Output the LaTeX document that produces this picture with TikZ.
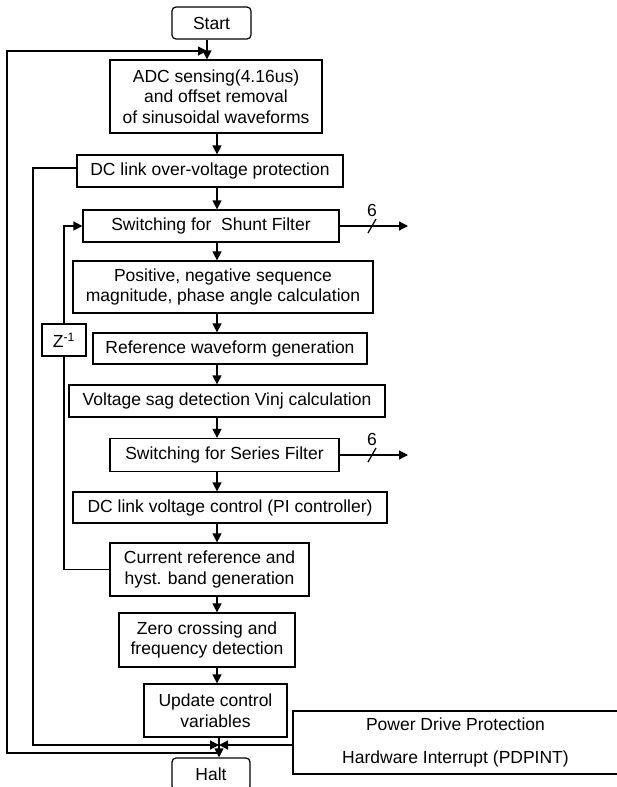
\documentclass[tikz,border=0pt]{standalone}
\usepackage{fontspec}
\setmainfont{Liberation Sans}
\usetikzlibrary{arrows.meta}
\begin{document}
\begin{tikzpicture}[x=1pt,y=-1pt,
  box/.style={draw, line width=1.2pt, inner sep=0pt, align=center, font=\fontsize{17.5}{20.5}\selectfont},
  term/.style={box, rounded corners=4pt},
  wh/.style 2 args={minimum width=#1pt, minimum height=#2pt},
  lbl/.style={inner sep=0pt, font=\fontsize{17.5}{20}\selectfont},
  ln/.style={line width=1.2pt},
  arr/.style={line width=1.2pt, -{Triangle[length=9pt,width=9pt]}}]
\useasboundingbox (0,0) rectangle (617,787);

% column coordinates
\coordinate (colx) at (217,0);
\coordinate (startx) at (207,0);
\coordinate (j1) at (219,745);
\coordinate (j2) at (219,753);
\coordinate (outl) at (7,0);
\coordinate (inl) at (33,0);
\coordinate (zx) at (61,0);
\coordinate (topj) at (207,51);
\coordinate (shout) at (408,227);
\coordinate (seout) at (408,456);

% nodes
\node[term, wh={79}{32}] (start) at (211.5,23) {Start};
\node[box, wh={212}{73}] (adc) at (216,96.5) {ADC sensing(4.16us)\\ and offset removal\\ of sinusoidal waveforms};
\node[box, wh={266}{32}] (dclink) at (210,171) {DC link over-voltage protection};
\node[box, wh={256}{32}] (shunt) at (211,226) {Switching for~ Shunt Filter};
\node[box, wh={300}{52}] (pos) at (223,287) {Positive, negative sequence\\ magnitude, phase angle calculation};
\node[box, wh={274}{31}] (ref) at (230,348.5) {Reference waveform generation};
\node[box, wh={316}{32}] (sag) at (227,401) {Voltage sag detection Vinj calculation};
\node[box, wh={229}{33}] (series) at (224.5,455) {Switching for Series Filter};
\node[box, wh={314}{31}] (dcv) at (230,507.5) {DC link voltage control (PI controller)};
\node[box, wh={199}{53}] (cur) at (209.5,569.5) {Current reference and\\ hyst. band generation};
\node[box, wh={176}{54}] (zero) at (207,640) {Zero crossing and\\ frequency detection};
\node[box, wh={143}{53}] (upd) at (215.5,710.5) {Update control\\ variables};
\node[box, wh={325}{63}] (pdp) at (455.5,742.5) {Power Drive Protection\\[13pt]Hardware Interrupt (PDPINT)};
\node[term, wh={78}{32}] (halt) at (211,774) {Halt};
\node[box, wh={44}{32}] (z) at (64,340) {Z\textsuperscript{-1}};
\node[lbl] (six1) at (372,210) {6};
\node[lbl] (six2) at (372,439) {6};

% main flow
\draw[arr] (start.south -| startx) -- (adc.north -| startx);
\draw[arr] (adc.south -| colx) -- (dclink.north -| colx);
\draw[arr] (dclink.south -| colx) -- (shunt.north -| colx);
\draw[arr] (shunt.south -| colx) -- (pos.north -| colx);
\draw[arr] (pos.south -| colx) -- (ref.north -| colx);
\draw[arr] (ref.south -| colx) -- (sag.north -| colx);
\draw[arr] (sag.south -| colx) -- (series.north -| colx);
\draw[arr] (series.south -| colx) -- (dcv.north -| colx);
\draw[arr] (dcv.south -| colx) -- (cur.north -| colx);
\draw[arr] (cur.south -| colx) -- (zero.north -| colx);
\draw[arr] (zero.south -| colx) -- (upd.north -| colx);
\draw[arr] (upd.south -| j1) -- (halt.north -| j1);

% outputs
\draw[arr] (shunt.east) -- (shunt.east -| shout);
\draw[ln] (368,233) -- (376,219);
\draw[arr] (series.east) -- (series.east -| seout);
\draw[ln] (368,462) -- (376,448);

% Z^-1 feedback
\draw[ln] (cur.west) -| (z.south);
\draw[arr] (z.north) |- (shunt.west);

% inner loop from DC link protection
\draw[arr] ([yshift=3pt]dclink.west) -| (inl |- j1) -- (j1);
\draw[arr] (pdp.west |- j1) -- (j1);

% outer loop
\draw[arr] (j2) -- (outl |- j2) -- (outl |- topj) -- (topj);
\end{tikzpicture}
\end{document}
